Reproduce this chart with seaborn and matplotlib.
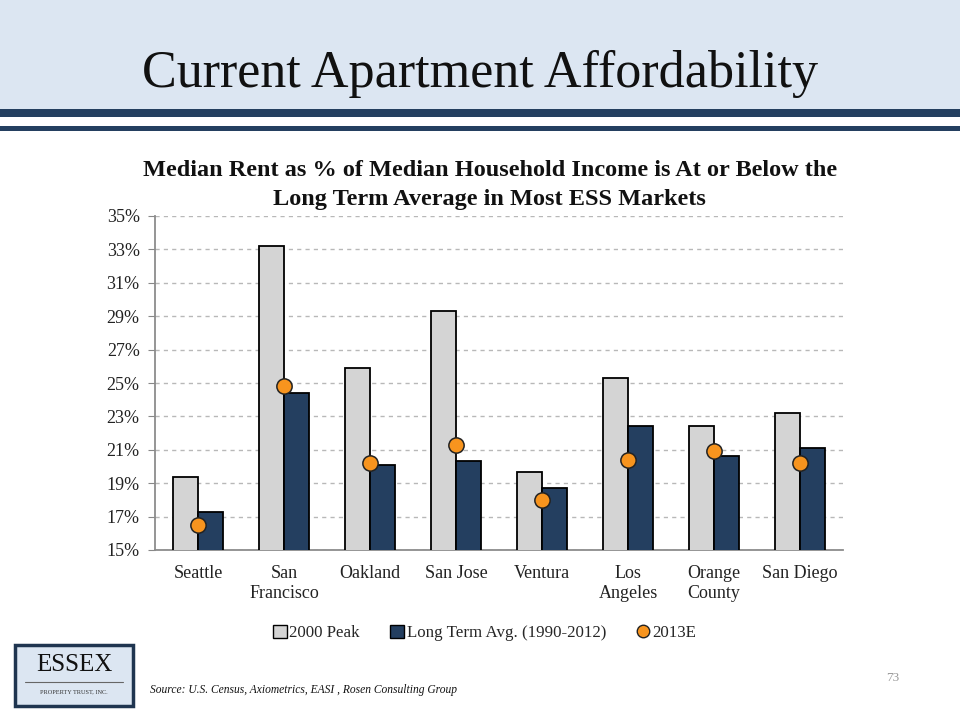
import numpy as np
import pandas as pd
import matplotlib
matplotlib.use("Agg")
import matplotlib.pyplot as plt
from matplotlib.patches import Rectangle
from matplotlib.lines import Line2D
import seaborn as sns

# data
markets = ["Seattle", "San\nFrancisco", "Oakland", "San Jose", "Ventura",
           "Los\nAngeles", "Orange\nCounty", "San Diego"]
peak_2000 = [19.4, 33.2, 25.9, 29.3, 19.7, 25.3, 22.4, 23.2]
long_term = [17.3, 24.4, 20.1, 20.3, 18.7, 22.4, 20.6, 21.1]
est_2013 = [16.5, 24.8, 20.2, 21.3, 18.0, 20.4, 20.9, 20.2]
series_names = ["2000 Peak", "Long Term Avg. (1990-2012)"]
yticks = list(range(15, 36, 2))

bars = pd.DataFrame({
    "market": markets * 2,
    "value": peak_2000 + long_term,
    "series": [series_names[0]] * len(markets) + [series_names[1]] * len(markets),
})
dots = pd.DataFrame({"market": markets, "value": est_2013})

sns.set_style("white")
plt.rcParams["font.family"] = ["Liberation Serif", "DejaVu Serif"]

gray = "#D4D4D4"
navy = "#243F60"
orange = "#F7941E"
band = "#DCE6F2"

fig = plt.figure(figsize=(9.6, 7.2), dpi=100)

# header band + stripes
fig.patches.append(Rectangle((0, 1 - 109 / 720), 1, 109 / 720, transform=fig.transFigure,
                             facecolor=band, edgecolor="none", zorder=0))
fig.patches.append(Rectangle((0, 1 - 117 / 720), 1, 8 / 720, transform=fig.transFigure,
                             facecolor=navy, edgecolor="none", zorder=0))
fig.patches.append(Rectangle((0, 1 - 131 / 720), 1, 5 / 720, transform=fig.transFigure,
                             facecolor=navy, edgecolor="none", zorder=0))
fig.text(0.5, 1 - 74 / 720, "Current Apartment Affordability", ha="center", va="center",
         fontsize=37.5, color="#111111")

ax = fig.add_axes([155 / 960, 1 - 550 / 720, 688 / 960, 334 / 720])
sns.barplot(data=bars, x="market", y="value", hue="series", hue_order=series_names,
            palette=[gray, navy], width=0.57, gap=0, edgecolor="black", linewidth=1.3,
            saturation=1, legend=False, ax=ax, zorder=3)
sns.stripplot(data=dots, x="market", y="value", jitter=False, color=orange, size=11,
              edgecolor="#222222", linewidth=1.1, ax=ax, zorder=5)

ax.set_ylim(15, 35)
ax.set_xlim(-0.5, len(markets) - 0.5)
ax.set_yticks(yticks)
ax.set_yticklabels([f"{t}%" for t in yticks])
ax.yaxis.grid(True, linestyle=(0, (3, 3)), color="#B8B8B8", linewidth=1)
ax.set_axisbelow(True)
ax.set_xlabel("")
ax.set_ylabel("")
ax.set_xticks(np.arange(-0.5, len(markets), 1.0), minor=True)
ax.tick_params(axis="x", which="major", length=0, labelsize=13, pad=11, colors="#222222")
ax.tick_params(axis="x", which="minor", length=5, color="#888888", direction="out")
ax.tick_params(axis="y", length=5, color="#888888", labelsize=13, colors="#222222",
               left=True, pad=6)
for s in ["top", "right"]:
    ax.spines[s].set_visible(False)
for s in ["left", "bottom"]:
    ax.spines[s].set_color("#8C8C8C")
    ax.spines[s].set_linewidth(1.3)

fig.text(0.51, 1 - 185 / 720,
         "Median Rent as % of Median Household Income is At or Below the\n"
         "Long Term Average in Most ESS Markets",
         ha="center", va="center", fontsize=17.5, fontweight="bold", linespacing=1.5,
         color="#111111")

handles = [
    Rectangle((0, 0), 1, 1, facecolor=gray, edgecolor="black", linewidth=1),
    Rectangle((0, 0), 1, 1, facecolor=navy, edgecolor="black", linewidth=1),
    Line2D([], [], marker="o", linestyle="none", markerfacecolor=orange,
           markeredgecolor="#222222", markersize=9),
]
fig.legend(handles, series_names + ["2013E"], loc="center", bbox_to_anchor=(0.505, 1 - 633 / 720),
           ncol=3, frameon=False, fontsize=12.2, handlelength=0.8, handleheight=0.8,
           handletextpad=0.15, columnspacing=1.8)

# logo
fig.patches.append(Rectangle((15 / 960, 1 - 706 / 720), 118 / 960, 61 / 720,
                             transform=fig.transFigure, facecolor=band,
                             edgecolor="#1F3550", linewidth=2.5))
fig.text(74 / 960, 1 - 665 / 720, "ESSEX", ha="center", va="center", fontsize=18,
         color="#111111")
fig.add_artist(Line2D([25 / 960, 123 / 960], [1 - 682 / 720, 1 - 682 / 720],
                      transform=fig.transFigure, color="#666666", linewidth=0.8))
fig.text(74 / 960, 1 - 692 / 720, "PROPERTY TRUST, INC.", ha="center", va="center",
         fontsize=4.5, color="#333333")

fig.text(150 / 960, 1 - 690 / 720,
         "Source: U.S. Census, Axiometrics, EASI , Rosen Consulting Group",
         ha="left", va="center", fontsize=8.3, style="italic", color="#111111")
fig.text(893 / 960, 1 - 678 / 720, "73", ha="center", va="center", fontsize=9.5,
         color="#9A9A9A")

fig.savefig("out.png", dpi=100)
